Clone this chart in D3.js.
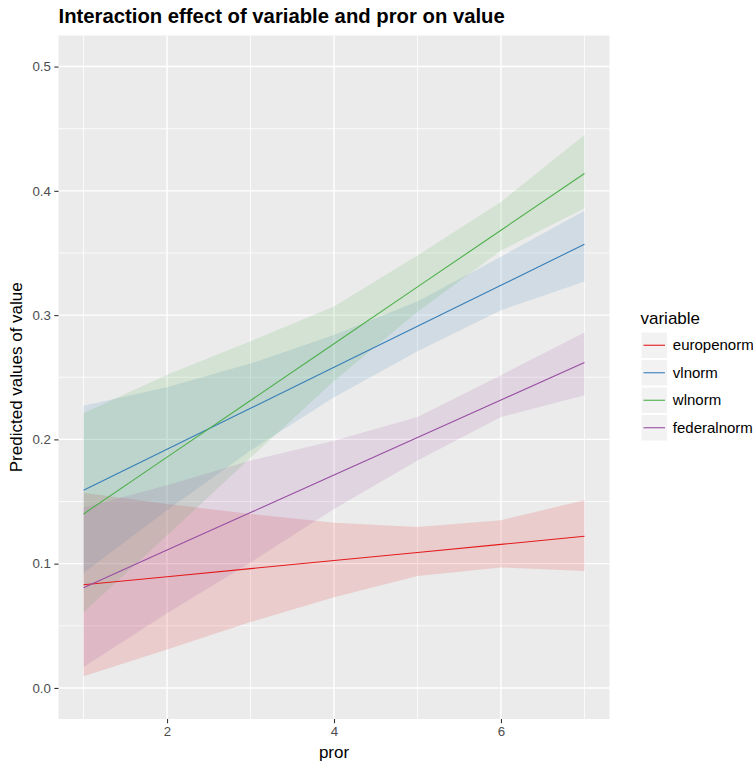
<!DOCTYPE html>
<html>
<head>
<meta charset="utf-8">
<script src="https://cdn.jsdelivr.net/npm/d3@7"></script>
<style>
  html, body { margin: 0; padding: 0; background: #ffffff; }
  svg { display: block; }
  text { font-family: "Liberation Sans", Arial, sans-serif; }
</style>
</head>
<body>
<script>
// ---------- data ----------
const xValues = [1, 2, 3, 4, 5, 6, 7];
const categories = ["europenorm", "vlnorm", "wlnorm", "federalnorm"];
const colors = ["#E41A1C", "#377EB8", "#4DAF4A", "#984EA3"];

const europenormFit  = [0.083, 0.0895, 0.096, 0.1025, 0.109, 0.1155, 0.122];
const europenormLow  = [0.0095, 0.031, 0.053, 0.073, 0.090, 0.097, 0.094];
const europenormHigh = [0.157, 0.148, 0.140, 0.133, 0.1295, 0.135, 0.151];

const vlnormFit  = [0.159, 0.192, 0.225, 0.258, 0.291, 0.324, 0.357];
const vlnormLow  = [0.0925, 0.143, 0.191, 0.234, 0.271, 0.304, 0.327];
const vlnormHigh = [0.227, 0.242, 0.261, 0.284, 0.311, 0.347, 0.384];

const wlnormFit  = [0.140, 0.1857, 0.2313, 0.277, 0.3227, 0.3683, 0.414];
const wlnormLow  = [0.061, 0.1227, 0.1853, 0.247, 0.3027, 0.352, 0.386];
const wlnormHigh = [0.221, 0.252, 0.279, 0.307, 0.348, 0.391, 0.445];

const federalnormFit  = [0.0807, 0.1109, 0.1411, 0.1713, 0.2015, 0.2317, 0.2619];
const federalnormLow  = [0.0168, 0.060, 0.101, 0.144, 0.183, 0.218, 0.2355];
const federalnormHigh = [0.145, 0.163, 0.183, 0.199, 0.218, 0.2517, 0.286];

const xTicks = [2, 4, 6];
const xMinor = [1, 3, 5, 7];
const yTicks = [0, 0.1, 0.2, 0.3, 0.4, 0.5];
const yMinor = [0.05, 0.15, 0.25, 0.35, 0.45];

const titleText = "Interaction effect of variable and pror on value";
const xTitle = "pror";
const yTitle = "Predicted values of value";
const legendTitle = "variable";

const seriesTable = [
  { name: categories[0], fit: europenormFit, low: europenormLow, high: europenormHigh },
  { name: categories[1], fit: vlnormFit, low: vlnormLow, high: vlnormHigh },
  { name: categories[2], fit: wlnormFit, low: wlnormLow, high: wlnormHigh },
  { name: categories[3], fit: federalnormFit, low: federalnormLow, high: federalnormHigh }
].map((s, i) => ({
  ...s,
  color: colors[i],
  points: xValues.map((x, j) => ({ x, fit: s.fit[j], low: s.low[j], high: s.high[j] }))
}));

// ---------- layout ----------
const W = 753, H = 764;
const panel = { left: 58.5, right: 609.5, top: 35.5, bottom: 719 };

const svg = d3.select("body").append("svg").attr("width", W).attr("height", H);
svg.append("rect").attr("width", W).attr("height", H).attr("fill", "#ffffff");

const x = d3.scaleLinear().domain([0.7, 7.3]).range([panel.left, panel.right]);
const y = d3.scaleLinear().domain([-0.025, 0.525]).range([panel.bottom, panel.top]);

// panel background
svg.append("rect")
  .attr("x", panel.left).attr("y", panel.top)
  .attr("width", panel.right - panel.left).attr("height", panel.bottom - panel.top)
  .attr("fill", "#EBEBEB");

const grid = svg.append("g");
grid.selectAll(".ym").data(yMinor).enter().append("line")
  .attr("x1", panel.left).attr("x2", panel.right)
  .attr("y1", d => y(d)).attr("y2", d => y(d))
  .attr("stroke", "#ffffff").attr("stroke-width", 0.8);
grid.selectAll(".xm").data(xMinor).enter().append("line")
  .attr("y1", panel.top).attr("y2", panel.bottom)
  .attr("x1", d => x(d)).attr("x2", d => x(d))
  .attr("stroke", "#ffffff").attr("stroke-width", 0.8);
grid.selectAll(".yM").data(yTicks).enter().append("line")
  .attr("x1", panel.left).attr("x2", panel.right)
  .attr("y1", d => y(d)).attr("y2", d => y(d))
  .attr("stroke", "#ffffff").attr("stroke-width", 1.4);
grid.selectAll(".xM").data(xTicks).enter().append("line")
  .attr("y1", panel.top).attr("y2", panel.bottom)
  .attr("x1", d => x(d)).attr("x2", d => x(d))
  .attr("stroke", "#ffffff").attr("stroke-width", 1.4);

// ribbons
const area = d3.area().x(d => x(d.x)).y0(d => y(d.low)).y1(d => y(d.high));
svg.append("g").selectAll("path").data(seriesTable).enter().append("path")
  .attr("d", d => area(d.points))
  .attr("fill", d => d.color).attr("fill-opacity", 0.15).attr("stroke", "none");

// lines
const line = d3.line().x(d => x(d.x)).y(d => y(d.fit));
svg.append("g").selectAll("path").data(seriesTable).enter().append("path")
  .attr("d", d => line(d.points))
  .attr("fill", "none").attr("stroke", d => d.color).attr("stroke-width", 1.1);

// axes
const yAxis = d3.axisLeft(y).tickValues(yTicks).tickFormat(d3.format(".1f")).tickSize(4.2).tickPadding(3.4);
const gy = svg.append("g").attr("transform", `translate(${panel.left},0)`).call(yAxis);
const xAxis = d3.axisBottom(x).tickValues(xTicks).tickFormat(d3.format("d")).tickSize(4.2).tickPadding(3.4);
const gx = svg.append("g").attr("transform", `translate(0,${panel.bottom})`).call(xAxis);
[gx, gy].forEach(g => {
  g.select(".domain").remove();
  g.selectAll(".tick line").attr("stroke", "#333333").attr("stroke-width", 1.1);
  g.selectAll(".tick text").attr("fill", "#4D4D4D").style("font-size", "13.3px")
    .style("font-family", '"Liberation Sans", Arial, sans-serif');
});

// titles
svg.append("text").attr("x", panel.left).attr("y", 23)
  .attr("font-size", 20.3).attr("font-weight", "bold").attr("fill", "#000")
  .text(titleText);
svg.append("text").attr("x", (panel.left + panel.right) / 2).attr("y", 758)
  .attr("text-anchor", "middle").attr("font-size", 17).attr("fill", "#000")
  .text(xTitle);
svg.append("text")
  .attr("transform", `translate(22,${(panel.top + panel.bottom) / 2}) rotate(-90)`)
  .attr("text-anchor", "middle").attr("font-size", 17).attr("fill", "#000")
  .text(yTitle);

// legend
const lg = svg.append("g").attr("transform", "translate(640.5,0)");
lg.append("text").attr("x", 0).attr("y", 324).attr("font-size", 17).attr("fill", "#000").text(legendTitle);
const keyH = 27.5, keyW = 27.5, keyTop = 331.5;
const items = lg.selectAll(".item").data(seriesTable).enter().append("g")
  .attr("transform", (d, i) => `translate(0,${keyTop + i * keyH})`);
items.append("rect").attr("x", 0.5).attr("y", 0.5).attr("width", keyW - 1).attr("height", keyH - 1)
  .attr("fill", "#F2F2F2").attr("stroke", "#ffffff").attr("stroke-width", 1);
items.append("line").attr("x1", 3).attr("x2", keyW - 3).attr("y1", keyH / 2).attr("y2", keyH / 2)
  .attr("stroke", d => d.color).attr("stroke-width", 1.1);
items.append("text").attr("x", keyW + 4.8).attr("y", keyH / 2 + 5)
  .attr("font-size", 15).attr("fill", "#000").text(d => d.name);
</script>
</body>
</html>
